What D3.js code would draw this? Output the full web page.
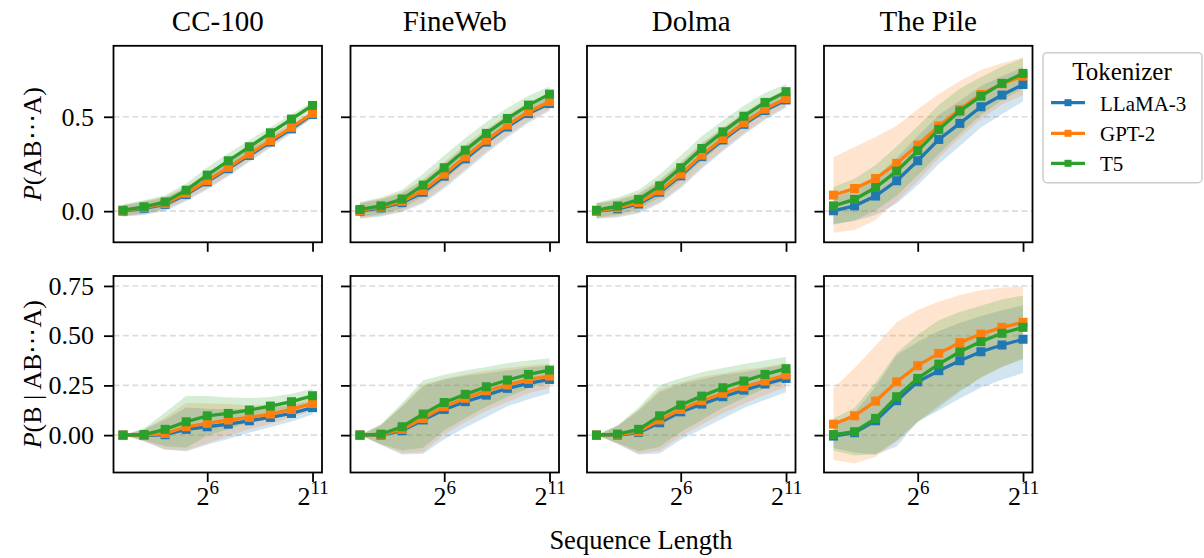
<!DOCTYPE html>
<head>
  <meta charset="utf-8">
  <script src="https://cdnjs.cloudflare.com/ajax/libs/d3/7.8.5/d3.min.js"></script>
  <style>
    body { margin:0; background:#fff; }
    text { font-family: "Liberation Serif", "Times New Roman", serif; fill:#000; }
  </style>
</head>
<body>
  <div id="vis"></div>
  <script>
    // sequence lengths 2^2 .. 2^11
    var seqLens = [4, 8, 16, 32, 64, 128, 256, 512, 1024, 2048];
    var datasets = ["CC-100", "FineWeb", "Dolma", "The Pile"];
    var tokenizers = ["LLaMA-3", "GPT-2", "T5"];
    var colors = ["#1f77b4", "#ff7f0e", "#2ca02c"];

    // top row: P(AB...A), per tokenizer [LLaMA-3, GPT-2, T5]
    var ccTopMean = [
      [0.000, 0.015, 0.036, 0.088, 0.155, 0.225, 0.295, 0.366, 0.436, 0.512],
      [0.003, 0.019, 0.041, 0.095, 0.162, 0.232, 0.303, 0.374, 0.444, 0.518],
      [0.005, 0.023, 0.049, 0.111, 0.191, 0.267, 0.341, 0.415, 0.488, 0.560]];
    var ccTopSd = [
      [0.03, 0.035, 0.035, 0.035, 0.04, 0.04, 0.035, 0.03, 0.025, 0.02],
      [0.03, 0.035, 0.035, 0.035, 0.04, 0.04, 0.035, 0.03, 0.025, 0.02],
      [0.03, 0.035, 0.035, 0.035, 0.04, 0.04, 0.035, 0.03, 0.025, 0.02]];
    var fwTopMean = [
      [0.000, 0.017, 0.045, 0.100, 0.185, 0.277, 0.366, 0.446, 0.517, 0.570],
      [0.004, 0.022, 0.052, 0.110, 0.196, 0.288, 0.376, 0.456, 0.527, 0.580],
      [0.009, 0.028, 0.064, 0.138, 0.230, 0.323, 0.412, 0.491, 0.562, 0.620]];
    var fwTopSd = [
      [0.04, 0.045, 0.05, 0.06, 0.065, 0.065, 0.06, 0.055, 0.05, 0.04],
      [0.04, 0.045, 0.05, 0.06, 0.065, 0.065, 0.06, 0.055, 0.05, 0.04],
      [0.04, 0.045, 0.05, 0.06, 0.065, 0.065, 0.06, 0.055, 0.05, 0.04]];
    var dolmaTopMean = [
      [0.000, 0.012, 0.038, 0.100, 0.187, 0.289, 0.377, 0.460, 0.533, 0.589],
      [0.002, 0.018, 0.046, 0.108, 0.196, 0.297, 0.385, 0.468, 0.541, 0.597],
      [0.005, 0.027, 0.062, 0.134, 0.230, 0.332, 0.420, 0.503, 0.576, 0.633]];
    var dolmaTopSd = [
      [0.04, 0.045, 0.05, 0.06, 0.065, 0.065, 0.06, 0.055, 0.05, 0.04],
      [0.04, 0.045, 0.05, 0.06, 0.065, 0.065, 0.06, 0.055, 0.05, 0.04],
      [0.04, 0.045, 0.05, 0.06, 0.065, 0.065, 0.06, 0.055, 0.05, 0.04]];
    var pileTopMean = [
      [0.002, 0.028, 0.080, 0.161, 0.267, 0.380, 0.465, 0.553, 0.615, 0.671],
      [0.085, 0.120, 0.173, 0.253, 0.350, 0.451, 0.539, 0.618, 0.675, 0.715],
      [0.028, 0.062, 0.125, 0.212, 0.320, 0.433, 0.530, 0.609, 0.677, 0.730]];
    var pileTopSd = [
      [0.07, 0.08, 0.10, 0.12, 0.13, 0.13, 0.12, 0.11, 0.10, 0.09],
      [0.20, 0.22, 0.22, 0.20, 0.19, 0.17, 0.15, 0.13, 0.11, 0.10],
      [0.10, 0.11, 0.12, 0.13, 0.13, 0.13, 0.12, 0.10, 0.09, 0.08]];

    // bottom row: P(B | AB...A)
    var ccBotMean = [
      [0.000, -0.002, 0.002, 0.029, 0.042, 0.055, 0.072, 0.089, 0.109, 0.138],
      [0.000, 0.000, 0.008, 0.042, 0.059, 0.076, 0.089, 0.106, 0.129, 0.159],
      [0.000, 0.003, 0.029, 0.067, 0.097, 0.109, 0.126, 0.146, 0.168, 0.198]];
    var ccBotSd = [
      [0, 0.03, 0.075, 0.11, 0.09, 0.075, 0.06, 0.05, 0.04, 0.035],
      [0, 0.03, 0.08, 0.12, 0.10, 0.08, 0.06, 0.05, 0.04, 0.035],
      [0, 0.03, 0.085, 0.13, 0.10, 0.08, 0.06, 0.045, 0.04, 0.035]];
    var fwBotMean = [
      [0.000, 0.000, 0.022, 0.076, 0.129, 0.168, 0.201, 0.235, 0.260, 0.280],
      [0.000, 0.002, 0.029, 0.084, 0.143, 0.185, 0.223, 0.252, 0.280, 0.297],
      [0.000, 0.005, 0.042, 0.106, 0.164, 0.205, 0.243, 0.277, 0.305, 0.327]];
    var fwBotSd = [
      [0, 0.05, 0.12, 0.17, 0.15, 0.13, 0.11, 0.09, 0.08, 0.07],
      [0, 0.05, 0.12, 0.17, 0.14, 0.12, 0.10, 0.085, 0.07, 0.06],
      [0, 0.05, 0.12, 0.17, 0.14, 0.12, 0.10, 0.085, 0.07, 0.06]];
    var dolmaBotMean = [
      [0.000, 0.000, 0.013, 0.062, 0.117, 0.156, 0.193, 0.226, 0.257, 0.285],
      [0.000, 0.002, 0.017, 0.076, 0.129, 0.173, 0.210, 0.243, 0.272, 0.302],
      [0.000, 0.005, 0.029, 0.097, 0.151, 0.196, 0.238, 0.272, 0.305, 0.334]];
    var dolmaBotSd = [
      [0, 0.045, 0.11, 0.155, 0.14, 0.125, 0.11, 0.09, 0.08, 0.07],
      [0, 0.045, 0.11, 0.155, 0.135, 0.12, 0.10, 0.085, 0.07, 0.06],
      [0, 0.045, 0.11, 0.155, 0.135, 0.12, 0.10, 0.085, 0.07, 0.06]];
    var pileBotMean = [
      [-0.005, 0.012, 0.072, 0.173, 0.268, 0.324, 0.374, 0.419, 0.453, 0.482],
      [0.055, 0.097, 0.171, 0.268, 0.349, 0.411, 0.465, 0.508, 0.542, 0.567],
      [0.003, 0.017, 0.084, 0.193, 0.285, 0.357, 0.419, 0.470, 0.512, 0.542]];
    var pileBotSd = [
      [0.06, 0.10, 0.17, 0.23, 0.20, 0.20, 0.19, 0.18, 0.175, 0.17],
      [0.18, 0.24, 0.28, 0.30, 0.28, 0.26, 0.24, 0.22, 0.20, 0.18],
      [0.08, 0.12, 0.18, 0.22, 0.22, 0.22, 0.20, 0.18, 0.17, 0.16]];

    var topTicks = [0, 0.5];
    var botTicks = [0, 0.25, 0.5, 0.75];
    var xTicks = [64, 2048];

    var width = 1204, height = 558;
    var svg = d3.select("#vis").append("svg")
      .attr("width", width)
      .attr("height", height);

    var panelW = 208.5, panelH = 196.5;
    var colLeft = [113.5, 350.5, 587, 824];
    var rowTop = [45.8, 276];

    var x = d3.scaleLog().base(2)
      .domain([Math.pow(2, 1.55), Math.pow(2, 11.45)])
      .range([0, panelW]);

    var rows = [
      { domain: [-0.165, 0.876], ticks: topTicks, fmt: d3.format(".1f"),
        means: [ccTopMean, fwTopMean, dolmaTopMean, pileTopMean],
        sds: [ccTopSd, fwTopSd, dolmaTopSd, pileTopSd] },
      { domain: [-0.188, 0.80], ticks: botTicks, fmt: d3.format(".2f"),
        means: [ccBotMean, fwBotMean, dolmaBotMean, pileBotMean],
        sds: [ccBotSd, fwBotSd, dolmaBotSd, pileBotSd] }
    ];

    rows.forEach(function(row, r) {
      var y = d3.scaleLinear().domain(row.domain).range([panelH, 0]);

      datasets.forEach(function(name, c) {
        var g = svg.append("g")
          .attr("transform", "translate(" + colLeft[c] + "," + rowTop[r] + ")");

        // dashed grid
        g.selectAll(".grid").data(row.ticks).enter().append("line")
          .attr("x1", 0).attr("x2", panelW)
          .attr("y1", function(d) { return y(d); })
          .attr("y2", function(d) { return y(d); })
          .style("stroke", "#dcdcdc")
          .style("stroke-width", 1.6)
          .style("stroke-dasharray", "6,3.4");

        var means = row.means[c], sds = row.sds[c];

        // bands
        var area = d3.area()
          .x(function(d, i) { return x(seqLens[i]); })
          .y0(function(d) { return y(d[0] - d[1]); })
          .y1(function(d) { return y(d[0] + d[1]); });
        tokenizers.forEach(function(t, k) {
          var pts = means[k].map(function(m, i) { return [m, sds[k][i]]; });
          g.append("path").datum(pts)
            .attr("d", area)
            .style("fill", colors[k])
            .style("fill-opacity", 0.2)
            .style("stroke", "none");
        });

        // lines + square markers
        var line = d3.line()
          .x(function(d, i) { return x(seqLens[i]); })
          .y(function(d) { return y(d); });
        tokenizers.forEach(function(t, k) {
          g.append("path").datum(means[k])
            .attr("d", line)
            .style("fill", "none")
            .style("stroke", colors[k])
            .style("stroke-width", 3.3);
          g.selectAll(".m" + k).data(means[k]).enter().append("rect")
            .attr("x", function(d, i) { return x(seqLens[i]) - 4.5; })
            .attr("y", function(d) { return y(d) - 4.5; })
            .attr("width", 9).attr("height", 9)
            .style("fill", colors[k]);
        });

        // axes
        var ya = g.append("g").call(d3.axisLeft(y).tickValues(row.ticks)
          .tickSize(9.5).tickPadding(10)
          .tickFormat(c == 0 ? row.fmt : function() { return ""; }));
        var xa = g.append("g").attr("transform", "translate(0," + panelH + ")")
          .call(d3.axisBottom(x).tickValues(xTicks).tickSize(9.5).tickPadding(12)
          .tickFormat(function() { return ""; }));
        [ya, xa].forEach(function(a) {
          a.attr("font-family", null);
          a.select(".domain").remove();
          a.selectAll(".tick line").style("stroke", "#000").style("stroke-width", 1.8);
          a.selectAll("text").style("font-size", "26px")
            .style("font-family", "'Liberation Serif', serif");
        });
        if (r == 1) {
          xa.selectAll(".tick text").each(function(d) {
            var el = d3.select(this).text("").attr("dy", null).attr("y", 32);
            el.append("tspan").text("2");
            el.append("tspan").attr("dy", -11).style("font-size", "19px")
              .text(Math.round(Math.log2(d)));
          });
        }

        // frame
        g.append("rect")
          .attr("width", panelW).attr("height", panelH)
          .style("fill", "none")
          .style("stroke", "#000")
          .style("stroke-width", 1.8);

        if (r == 0) {
          svg.append("text")
            .attr("x", colLeft[c] + panelW / 2).attr("y", 31)
            .attr("text-anchor", "middle")
            .style("font-size", "29px")
            .text(name);
        }
      });
    });

    // y labels
    var ylab = [
      { y: rowTop[0] + panelH / 2, pre: "(AB\u22EFA)" },
      { y: rowTop[1] + panelH / 2, pre: "(B | AB\u22EFA)" }
    ];
    ylab.forEach(function(l) {
      var t = svg.append("text")
        .attr("transform", "translate(41," + l.y + ") rotate(-90)")
        .attr("text-anchor", "middle")
        .style("font-size", "26px");
      t.append("tspan").style("font-style", "italic").text("P");
      t.append("tspan").text(l.pre);
    });

    svg.append("text")
      .attr("x", 641).attr("y", 549)
      .attr("text-anchor", "middle")
      .style("font-size", "26.5px")
      .text("Sequence Length");

    // legend
    var lg = svg.append("g");
    lg.append("rect")
      .attr("x", 1043).attr("y", 52.7)
      .attr("width", 159).attr("height", 130)
      .attr("rx", 4)
      .style("fill", "#fff")
      .style("stroke", "#cccccc")
      .style("stroke-width", 1.5);
    lg.append("text")
      .attr("x", 1122).attr("y", 80)
      .attr("text-anchor", "middle")
      .style("font-size", "25px")
      .text("Tokenizer");
    var entryY = [102.7, 133.3, 163.3];
    tokenizers.forEach(function(t, k) {
      lg.append("line")
        .attr("x1", 1051).attr("x2", 1085)
        .attr("y1", entryY[k]).attr("y2", entryY[k])
        .style("stroke", colors[k]).style("stroke-width", 3.3);
      lg.append("rect")
        .attr("x", 1068 - 3.5).attr("y", entryY[k] - 3.5)
        .attr("width", 7).attr("height", 7)
        .style("fill", colors[k]);
      lg.append("text")
        .attr("x", 1100).attr("y", entryY[k] + 8)
        .style("font-size", "21px")
        .text(t);
    });
  </script>
</body>
